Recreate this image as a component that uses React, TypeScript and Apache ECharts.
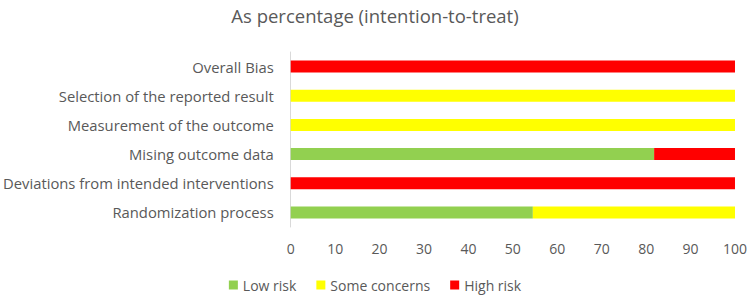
import React, { useEffect, useRef } from "react";
import * as echarts from "echarts";

const categories = [
  "Randomization process",
  "Deviations from intended interventions",
  "Mising outcome data",
  "Measurement of the outcome",
  "Selection of the reported result",
  "Overall Bias",
];
const lowRisk = [54.5, 0, 81.8, 0, 0, 0];
const someConcerns = [45.5, 0, 0, 100, 100, 0];
const highRisk = [0, 100, 18.2, 0, 0, 100];
const xTicks = [0, 10, 20, 30, 40, 50, 60, 70, 80, 90, 100];

const FONT = "'Open Sans', 'Liberation Sans', sans-serif";

export default function App() {
  const ref = useRef<HTMLDivElement>(null);
  useEffect(() => {
    if (!ref.current) return;
    const chart = echarts.init(ref.current, undefined, { renderer: "svg" });
    chart.setOption({
      animation: false,
      title: {
        text: "As percentage (intention-to-treat)",
        left: "center",
        top: 1,
        textStyle: { fontFamily: FONT, fontSize: 18.5, fontWeight: "normal", color: "#595959" },
      },
      legend: {
        top: 273,
        left: "center",
        itemWidth: 9,
        itemHeight: 9,
        itemGap: 20,
        icon: "rect",
        textStyle: { fontFamily: FONT, fontSize: 14, color: "#595959" },
        data: ["Low risk", "Some concerns", "High risk"],
      },
      grid: { left: 282, right: 15, top: 52, bottom: 70, containLabel: false },
      xAxis: {
        type: "value",
        min: xTicks[0],
        max: xTicks[xTicks.length - 1],
        interval: 10,
        splitLine: { show: false },
        axisLine: { show: false },
        axisTick: { show: false },
        axisLabel: { fontFamily: FONT, fontSize: 14, color: "#595959", margin: 14 },
      },
      yAxis: {
        type: "category",
        data: categories,
        axisLine: { show: true, lineStyle: { color: "#d9d9d9" } },
        axisTick: { show: false },
        axisLabel: { fontFamily: FONT, fontSize: 14.8, color: "#595959", margin: 17 },
      },
      series: [
        { name: "Low risk", type: "bar", stack: "a", data: lowRisk, barWidth: 12, itemStyle: { color: "#92D050" } },
        { name: "Some concerns", type: "bar", stack: "a", data: someConcerns, barWidth: 12, itemStyle: { color: "#FFFF00" } },
        { name: "High risk", type: "bar", stack: "a", data: highRisk, barWidth: 12, itemStyle: { color: "#FF0000" } },
      ],
    });
    return () => chart.dispose();
  }, []);
  return <div ref={ref} style={{ position: "absolute", left: 0, top: 0, width: 750, height: 297 }} />;
}
